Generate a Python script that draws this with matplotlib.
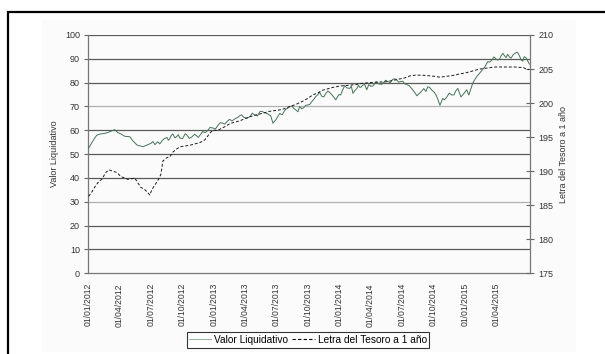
import matplotlib
matplotlib.use("Agg")
import matplotlib.dates as mdates
import matplotlib.pyplot as plt
import pandas as pd
from matplotlib.lines import Line2D
from matplotlib.patches import Rectangle

plt.rcParams["font.family"] = ["Liberation Sans", "DejaVu Sans"]

# Valor liquidativo del fondo (eje izquierdo)
vl_dates = [
    "2012-01-02", "2012-01-12", "2012-01-20", "2012-01-26", "2012-02-06", "2012-02-18",
    "2012-03-04", "2012-03-18", "2012-03-27", "2012-04-05", "2012-04-16", "2012-05-01",
    "2012-05-10", "2012-05-22", "2012-05-30", "2012-06-08", "2012-06-19", "2012-07-01",
    "2012-07-07", "2012-07-13", "2012-07-21", "2012-07-27", "2012-08-02", "2012-08-09",
    "2012-08-17", "2012-08-21", "2012-08-25", "2012-08-29", "2012-09-03", "2012-09-09",
    "2012-09-15", "2012-09-19", "2012-09-23", "2012-10-01", "2012-10-05", "2012-10-09",
    "2012-10-14", "2012-10-21", "2012-10-28", "2012-11-05", "2012-11-12", "2012-11-16",
    "2012-11-21", "2012-11-29", "2012-12-06", "2012-12-14", "2012-12-20", "2012-12-28",
    "2013-01-05", "2013-01-12", "2013-01-19", "2013-01-26", "2013-02-01", "2013-02-07",
    "2013-02-15", "2013-02-22", "2013-03-05", "2013-03-11", "2013-03-17", "2013-03-22",
    "2013-03-28", "2013-04-06", "2013-04-15", "2013-04-22", "2013-04-29", "2013-05-07",
    "2013-05-14", "2013-05-20", "2013-05-26", "2013-06-06", "2013-06-15", "2013-06-21",
    "2013-06-30", "2013-07-11", "2013-07-18", "2013-07-26", "2013-08-03", "2013-08-09",
    "2013-08-15", "2013-08-21", "2013-09-02", "2013-09-07", "2013-09-13", "2013-09-19",
    "2013-09-25", "2013-10-06", "2013-10-12", "2013-10-18", "2013-10-24", "2013-10-30",
    "2013-11-04", "2013-11-10", "2013-11-16", "2013-11-22", "2013-11-28", "2013-12-04",
    "2013-12-12", "2013-12-21", "2013-12-30", "2014-01-04", "2014-01-10", "2014-01-16",
    "2014-01-22", "2014-01-31", "2014-02-04", "2014-02-09", "2014-02-15", "2014-02-20",
    "2014-02-25", "2014-03-01", "2014-03-05", "2014-03-10", "2014-03-15", "2014-03-21",
    "2014-03-27", "2014-04-02", "2014-04-08", "2014-04-14", "2014-04-19", "2014-04-25",
    "2014-05-03", "2014-05-10", "2014-05-15", "2014-05-21", "2014-05-28", "2014-06-05",
    "2014-06-11", "2014-06-17", "2014-06-22", "2014-06-28", "2014-07-04", "2014-07-10",
    "2014-07-22", "2014-08-02", "2014-08-08", "2014-08-14", "2014-08-19", "2014-08-25",
    "2014-09-03", "2014-09-09", "2014-09-15", "2014-09-20", "2014-09-26", "2014-10-02",
    "2014-10-08", "2014-10-14", "2014-10-20", "2014-10-28", "2014-11-02", "2014-11-09",
    "2014-11-16", "2014-11-24", "2014-11-30", "2014-12-05", "2014-12-11", "2014-12-15",
    "2014-12-20", "2014-12-29", "2015-01-06", "2015-01-12", "2015-01-24", "2015-02-04",
    "2015-02-16", "2015-02-28", "2015-03-08", "2015-03-14", "2015-03-20", "2015-03-26",
    "2015-04-01", "2015-04-06", "2015-04-12", "2015-04-16", "2015-04-21", "2015-04-25",
    "2015-04-30", "2015-05-05", "2015-05-11", "2015-05-15", "2015-05-20", "2015-05-25",
    "2015-06-01", "2015-06-05", "2015-06-09", "2015-06-13", "2015-06-18", "2015-06-22",
    "2015-06-27", "2015-07-02", "2015-07-07",
]
vl_values = [
    52.5, 55.0, 56.8, 58.0, 58.5, 58.7,
    59.4, 60.3, 59.0, 58.5, 57.5, 57.3,
    55.5, 53.8, 53.5, 53.1, 53.8, 54.5,
    55.3, 54.0, 55.2, 54.3, 55.5, 56.5,
    57.0, 55.8, 56.5, 57.8, 58.5, 56.8,
    57.5, 58.2, 56.8, 56.5, 57.5, 58.6,
    58.0, 56.6, 57.2, 58.3, 57.6, 57.0,
    58.0, 59.5, 59.0, 60.0, 61.2, 61.0,
    60.6, 62.0, 63.2, 63.0, 62.6, 63.6,
    64.6, 64.0, 65.0, 65.4, 66.2, 66.5,
    65.5, 65.0, 65.7, 67.2, 66.5, 66.0,
    67.8, 68.0, 67.5, 66.9, 66.0, 63.0,
    64.5, 67.1, 66.5, 68.5, 69.3, 69.9,
    70.2, 69.2, 67.8, 70.0, 69.0, 69.6,
    70.5, 70.8, 72.0, 73.0, 74.2, 75.0,
    76.0, 74.3, 74.0, 75.5, 76.5, 75.8,
    74.5, 72.8, 75.0, 74.8, 76.9, 78.8,
    77.8, 77.6, 78.6, 75.5, 76.8, 77.5,
    78.9, 78.0, 78.2, 79.0, 79.3, 77.0,
    79.2, 78.5, 78.6, 79.8, 80.3, 79.5,
    79.3, 80.2, 81.0, 80.5, 80.0, 81.4,
    81.6, 81.0, 80.2, 80.5, 80.6, 79.5,
    78.8, 77.0, 75.8, 74.5, 75.2, 76.0,
    77.5, 76.3, 78.3, 78.0, 76.9, 76.2,
    75.0, 73.0, 70.5, 73.4, 72.8, 74.0,
    75.6, 74.8, 74.9, 76.5, 77.6, 76.0,
    74.0, 75.5, 77.0, 74.8, 80.0, 82.5,
    84.6, 86.7, 88.8, 88.6, 89.5, 90.8,
    90.0, 89.4, 90.0, 91.3, 92.3, 91.5,
    90.5, 91.9, 90.6, 90.3, 91.5, 92.2,
    92.8, 92.2, 91.0, 89.6, 89.0, 90.9,
    90.5, 89.2, 87.8,
]

# Letra del Tesoro a 1 año (eje derecho)
lt_dates = [
    "2012-01-02", "2012-01-12", "2012-01-20", "2012-02-01", "2012-02-09", "2012-02-21",
    "2012-03-01", "2012-03-12", "2012-03-24", "2012-04-05", "2012-04-16", "2012-04-25",
    "2012-05-07", "2012-05-15", "2012-05-24", "2012-06-02", "2012-06-11", "2012-06-19",
    "2012-06-28", "2012-07-04", "2012-07-13", "2012-07-21", "2012-07-30", "2012-08-05",
    "2012-08-17", "2012-08-25", "2012-09-03", "2012-09-15", "2012-09-26", "2012-10-08",
    "2012-10-22", "2012-11-06", "2012-11-21", "2012-12-05", "2012-12-20", "2012-12-28",
    "2013-01-12", "2013-01-23", "2013-02-04", "2013-02-16", "2013-03-02", "2013-03-17",
    "2013-03-31", "2013-04-15", "2013-04-29", "2013-05-14", "2013-05-29", "2013-06-12",
    "2013-06-27", "2013-07-11", "2013-07-26", "2013-08-09", "2013-08-27", "2013-09-13",
    "2013-10-01", "2013-10-15", "2013-10-30", "2013-11-13", "2013-11-28", "2013-12-12",
    "2014-01-02", "2014-01-22", "2014-02-15", "2014-03-07", "2014-03-30", "2014-04-22",
    "2014-05-13", "2014-06-03", "2014-06-20", "2014-07-10", "2014-07-25", "2014-08-08",
    "2014-08-28", "2014-09-21", "2014-10-08", "2014-10-20", "2014-11-03", "2014-11-18",
    "2014-12-02", "2014-12-17", "2014-12-31", "2015-01-15", "2015-01-29", "2015-02-13",
    "2015-02-28", "2015-03-14", "2015-03-29", "2015-04-27", "2015-05-26", "2015-06-21",
    "2015-06-27", "2015-07-07",
]
lt_values = [
    186.3, 187.0, 187.7, 188.5, 188.8, 189.8,
    190.2, 190.0, 189.8, 189.2, 189.0, 188.8,
    188.9, 189.0, 188.3, 187.6, 187.4, 187.0,
    186.5, 187.3, 188.0, 188.6, 189.5, 191.5,
    192.0, 192.1, 192.8, 193.3, 193.6, 193.7,
    193.8, 194.0, 194.2, 194.6, 195.6, 196.0,
    196.0, 196.3, 196.6, 197.0, 197.2, 197.4,
    197.7, 198.0, 198.2, 198.4, 198.6, 198.8,
    198.9, 199.0, 199.2, 199.5, 199.8, 200.2,
    200.7, 201.2, 201.5, 201.9, 202.1, 202.3,
    202.5, 202.6, 202.7, 202.9, 203.0, 203.1,
    203.1, 203.3, 203.5, 203.7, 204.0, 204.1,
    204.1, 204.0, 203.9, 203.8, 203.9, 204.0,
    204.1, 204.3, 204.4, 204.6, 204.8, 205.0,
    205.1, 205.2, 205.3, 205.3, 205.3, 205.2,
    205.0, 204.9,
]

left_ticks = [0, 10, 20, 30, 40, 50, 60, 70, 80, 90, 100]
right_ticks = [175, 180, 185, 190, 195, 200, 205, 210]
date_ticks = pd.date_range("2012-01-01", "2015-04-01", freq="QS")

vl = pd.Series(vl_values, index=pd.to_datetime(vl_dates)).sort_index()
lt = pd.Series(lt_values, index=pd.to_datetime(lt_dates)).sort_index()

fig = plt.figure(figsize=(6.05, 3.54), dpi=100)
fig.patch.set_facecolor("white")

# fondo del área del gráfico y marco exterior
fig.add_artist(Rectangle((42 / 605, 2 / 354), 534 / 605, 332 / 354,
                         transform=fig.transFigure, facecolor="#fbfbfb",
                         edgecolor="none", zorder=-10))
fig.add_artist(Rectangle((8 / 605, -0.05), 1.0, 1.05 - 12 / 354,
                         transform=fig.transFigure, facecolor="none",
                         edgecolor="black", linewidth=1.6, zorder=-5))

ax = fig.add_axes([88.3 / 605, 1 - 273.3 / 354, 441.7 / 605, 238.3 / 354])
ax.set_facecolor("none")
ax2 = ax.twinx()

grid_colors = {30: "#b0b0b0", 70: "#b0b0b0"}
for v in left_ticks[1:]:
    ax.axhline(v, color=grid_colors.get(v, "#5a5a5a"), linewidth=0.9, zorder=0)

ax.plot(vl.index, vl.values, color="#467456", linewidth=0.7, zorder=3)
ax2.plot(lt.index, lt.values, color="#1a1a1a", linewidth=0.7,
         dashes=(3, 2), zorder=3)

xmin, xmax = pd.Timestamp("2012-01-01"), pd.Timestamp("2015-07-09")
ax.set_xlim(xmin, xmax)
ax.set_ylim(0, 100)
ax2.set_ylim(175, 210)

ax.set_xticks(date_ticks)
ax.xaxis.set_major_formatter(mdates.DateFormatter("%d/%m/%Y"))
ax.tick_params(axis="x", length=0, pad=7, labelsize=6.2, labelcolor="#333333",
               labelrotation=90)
for lbl in ax.get_xticklabels():
    lbl.set_verticalalignment("top")

ax.set_yticks(left_ticks)
ax.tick_params(axis="y", length=3, width=0.8, color="#666666", pad=3,
               labelsize=6.5, labelcolor="#333333")
ax2.set_yticks(right_ticks)
ax2.tick_params(axis="y", direction="inout", length=6, width=0.8, color="#666666",
                pad=3, labelsize=6.5, labelcolor="#333333")

for a in (ax, ax2):
    a.spines["top"].set_visible(False)
    for s in ("left", "right", "bottom"):
        a.spines[s].set_color("#777777")
        a.spines[s].set_linewidth(0.9)
ax.spines["right"].set_visible(False)
ax2.spines["left"].set_visible(False)
ax2.spines["bottom"].set_visible(False)

ax.set_ylabel("Valor Liquidativo", fontsize=6.5, color="#333333", labelpad=4)
ax2.set_ylabel("Letra del Tesoro a 1 año", fontsize=6.5, color="#333333", labelpad=4)

handles = [
    Line2D([], [], color="#9fb8a5", linewidth=0.8),
    Line2D([], [], color="black", linewidth=0.8, dashes=(3, 2)),
]
leg = fig.legend(handles, ["Valor Liquidativo", "Letra del Tesoro a 1 año"],
                 loc="center", bbox_to_anchor=(308 / 605, 1 - 340 / 354), ncol=2,
                 fontsize=7.3, frameon=True, fancybox=False, handlelength=2.2,
                 handletextpad=0.3, columnspacing=0.4, borderpad=0.25,
                 borderaxespad=0)
leg.get_frame().set_edgecolor("black")
leg.get_frame().set_linewidth(0.8)
leg.get_frame().set_facecolor("white")

fig.savefig("out.png", dpi=100)
